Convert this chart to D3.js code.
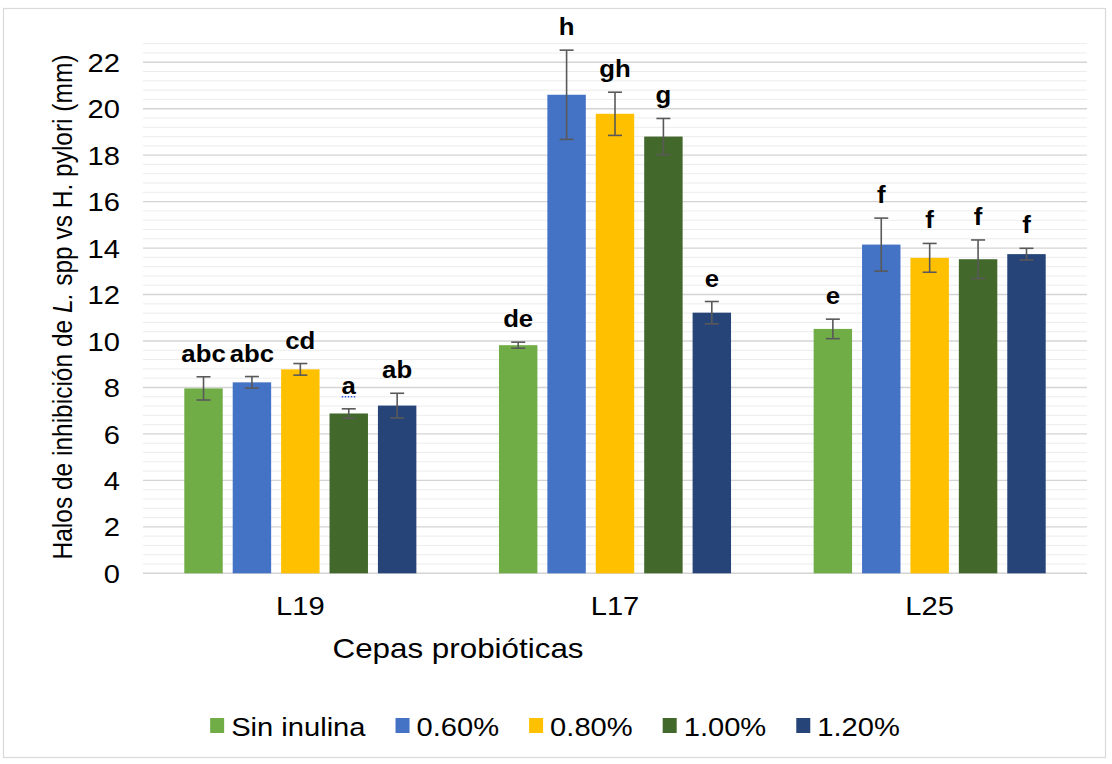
<!DOCTYPE html>
<html lang="es">
<head>
<meta charset="utf-8">
<title>Halos de inhibición</title>
<script src="https://d3js.org/d3.v7.min.js"></script>
<style>
  body { margin: 0; background: #fff; }
  svg text { font-family: "Liberation Sans", Arial, sans-serif; fill: #000; }
</style>
</head>
<body>
<div id="chart"></div>
<script>
// categories and series
const cepas = ["L19", "L17", "L25"];
const series = ["Sin inulina", "0.60%", "0.80%", "1.00%", "1.20%"];
const colors = ["#70ad47", "#4472c4", "#ffc000", "#43682b", "#264478"];

// mean halo (mm) per series, order L19, L17, L25
const sinInulina = [7.96, 9.82, 10.52];
const p060 = [8.22, 20.6, 14.15];
const p080 = [8.78, 19.78, 13.58];
const p100 = [6.88, 18.8, 13.52];
const p120 = [7.22, 11.22, 13.74];

// error (+/-) per series
const errSin = [0.5, 0.13, 0.42];
const err060 = [0.25, 1.92, 1.14];
const err080 = [0.25, 0.93, 0.62];
const err100 = [0.2, 0.78, 0.83];
const err120 = [0.53, 0.48, 0.25];

// significance letters
const letSin = ["abc", "de", "e"];
const let060 = ["abc", "h", "f"];
const let080 = ["cd", "gh", "f"];
const let100 = ["a", "g", "f"];
const let120 = ["ab", "e", "f"];

const yTicks = [0, 2, 4, 6, 8, 10, 12, 14, 16, 18, 20, 22];

const values = [sinInulina, p060, p080, p100, p120];
const errors = [errSin, err060, err080, err100, err120];
const letters = [letSin, let060, let080, let100, let120];

const rows = [];
series.forEach((s, si) => cepas.forEach((c, ci) => {
  rows.push({ serie: s, si: si, cepa: c, v: values[si][ci], e: errors[si][ci], l: letters[si][ci] });
}));

const W = 1112, H = 764;
const left = 143, right = 1087, bottom = 573.3, yMax = 22.8;
const K = 1.12;   // the picture is a bit wider than the glyphs

const svg = d3.select("#chart").append("svg")
  .attr("width", W).attr("height", H);

svg.append("rect")
  .attr("x", 3.5).attr("y", 8.5).attr("width", 1102).attr("height", 749)
  .attr("fill", "#fff").attr("stroke", "#d9d9d9").attr("stroke-width", 1.2);

const y = d3.scaleLinear().domain([0, yMax]).range([bottom, bottom - yMax * 23.23]);
const x0 = d3.scaleBand().domain(cepas).range([left, right]);
const gp = 41.3;
const x1 = d3.scaleBand().domain(series)
  .range([gp, x0.bandwidth() - gp]).paddingInner(0.206);

// widen text by k, returns new length
function stretch(sel, k) {
  let w = 0;
  sel.each(function () {
    const n = this.getComputedTextLength() * k;
    d3.select(this).attr("textLength", n).attr("lengthAdjust", "spacingAndGlyphs");
    w = n;
  });
  return w;
}

// gridlines
const minor = d3.range(0, yMax + 1e-6, 0.4).filter(d => Math.abs(d / 2 - Math.round(d / 2)) > 1e-6);
svg.append("g").selectAll("line").data(minor).join("line")
  .attr("x1", left).attr("x2", right)
  .attr("y1", d => y(d)).attr("y2", d => y(d))
  .attr("stroke", "#ececec").attr("stroke-width", 1);
svg.append("g").selectAll("line").data(yTicks).join("line")
  .attr("x1", left).attr("x2", right)
  .attr("y1", d => y(d)).attr("y2", d => y(d))
  .attr("stroke", "#d4d4d4").attr("stroke-width", 1.4);

// y axis labels
const yAxis = svg.append("g")
  .attr("transform", "translate(" + 120 + ",0)")
  .call(d3.axisLeft(y).tickValues(yTicks).tickSize(0).tickPadding(0));
yAxis.select(".domain").remove();
yAxis.selectAll("text")
  .attr("font-family", null).attr("font-size", 26).attr("fill", "#000").attr("dy", "0.35em");
stretch(yAxis.selectAll("text"), K);

// bars
const groups = svg.append("g").selectAll("g").data(rows).join("g")
  .attr("transform", d => "translate(" + (x0(d.cepa) + x1(d.serie)) + ",0)");

groups.append("rect")
  .attr("x", 0).attr("width", x1.bandwidth())
  .attr("y", d => y(d.v)).attr("height", d => y(0) - y(d.v))
  .attr("fill", d => colors[d.si]);

// error bars
const cx = x1.bandwidth() / 2;
groups.append("line")
  .attr("x1", cx).attr("x2", cx)
  .attr("y1", d => y(d.v + d.e)).attr("y2", d => y(d.v - d.e))
  .attr("stroke", "#595959").attr("stroke-width", 1.6);
groups.selectAll("line.cap").data(d => [d.v + d.e, d.v - d.e]).join("line")
  .attr("class", "cap")
  .attr("x1", cx - 7).attr("x2", cx + 7)
  .attr("y1", d => y(d)).attr("y2", d => y(d))
  .attr("stroke", "#595959").attr("stroke-width", 1.6);

// letters
const lab = groups.append("text")
  .attr("x", cx).attr("y", d => y(d.v + d.e) - 15)
  .attr("text-anchor", "middle")
  .attr("font-size", 23).attr("font-weight", "bold")
  .text(d => d.l);
stretch(lab, K);
groups.filter(d => d.l === "a").append("line")
  .attr("x1", cx - 7).attr("x2", cx + 7)
  .attr("y1", d => y(d.v + d.e) - 12).attr("y2", d => y(d.v + d.e) - 12)
  .attr("stroke", "#3355dd").attr("stroke-width", 1.5).attr("stroke-dasharray", "1.5,1.5");

// category labels
const cat = svg.append("g").selectAll("text").data(cepas).join("text")
  .attr("x", d => x0(d) + x0.bandwidth() / 2).attr("y", 615)
  .attr("text-anchor", "middle").attr("font-size", 26)
  .text(d => d);
stretch(cat, K);

// axis titles
const xt = svg.append("text")
  .attr("x", 458).attr("y", 658).attr("text-anchor", "middle")
  .attr("font-size", 28).text("Cepas probióticas");
stretch(xt, K);

const yt = svg.append("text")
  .attr("transform", "translate(72,307) scale(" + K + ",1) rotate(-90)")
  .attr("text-anchor", "middle").attr("font-size", 24.5);
yt.append("tspan").text("Halos de inhibición de ");
yt.append("tspan").attr("font-style", "italic").text("L.");
yt.append("tspan").text(" spp vs H. pylori (mm)");

// legend
const leg = svg.append("g");
let lx = 0;
series.forEach((s, i) => {
  const it = leg.append("g").attr("transform", "translate(" + lx + ",0)");
  it.append("rect").attr("x", 0).attr("y", 718).attr("width", 14).attr("height", 15)
    .attr("fill", colors[i]);
  const t = it.append("text").attr("x", 21).attr("y", 735.5).attr("font-size", 26).text(s);
  lx += 21 + stretch(t, K) + 30;
});
lx -= 30;
leg.attr("transform", "translate(" + (555 - lx / 2) + ",0)");
</script>
</body>
</html>
